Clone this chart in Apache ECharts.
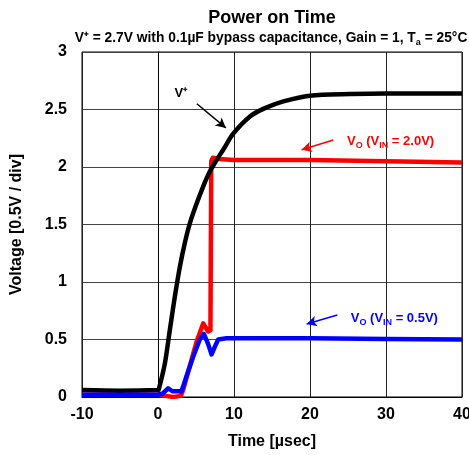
<!DOCTYPE html>
<html>
<head>
<meta charset="utf-8">
<script src="https://cdn.jsdelivr.net/npm/echarts@6/dist/echarts.min.js"></script>
<style>
html,body{margin:0;padding:0;background:#fff;}
#chart{width:469px;height:455px;}
</style>
</head>
<body>
<div id="chart"></div>
<script>
// Time [µsec], Voltage [V]
var vPlus = [
  [-10,0.06],[-5,0.055],[0,0.06],[0.1,0.065],[0.9,0.29],[1.55,0.58],[2.21,0.87],[2.87,1.13],
  [3.53,1.34],[4.19,1.51],[5.07,1.68],[5.94,1.83],[6.82,1.96],[7.7,2.06],[8.58,2.15],
  [9.9,2.29],[12.1,2.44],[14,2.51],[16.5,2.57],[20,2.62],[25.3,2.635],[30,2.64],[35,2.64],[40,2.64]
];
var voHigh = [
  [-10,0.02],[0,0.02],[1,0.01],[2,0.0],[3,0.01],[3.3,0.06],[4.19,0.27],[5.07,0.48],
  [5.94,0.64],[6.6,0.57],[6.9,0.58],[7.0,2.05],[7.2,2.08],[8,2.07],[10,2.06],
  [20,2.06],[30,2.05],[40,2.04]
];
var voLow = [
  [-10,0.02],[0,0.02],[0.6,0.03],[1.33,0.076],[1.9,0.05],[3.1,0.05],[3.75,0.18],
  [4.63,0.35],[5.5,0.5],[6.03,0.55],[6.6,0.46],[7.05,0.37],[7.5,0.44],[7.92,0.5],
  [9,0.51],[20,0.51],[30,0.505],[40,0.5]
];
var xTicks = [-10,0,10,20,30,40];
var yTicks = [0,0.5,1,1.5,2,2.5,3];

var FONT = '"Liberation Sans", Arial, sans-serif';
var chart = echarts.init(document.getElementById('chart'), null, {renderer:'canvas'});

function sub(color){
  return {
    m:{fontFamily:FONT,fontWeight:'bold',fontSize:13,color:color,lineHeight:17,verticalAlign:'bottom'},
    s:{fontFamily:FONT,fontWeight:'bold',fontSize:9,color:color,lineHeight:17,verticalAlign:'bottom',padding:[0,0,-2,0]}
  };
}

var option = {
  animation:false,
  backgroundColor:'#fff',
  grid:{left:82,right:7,top:52,bottom:58,show:true,borderColor:'#000',borderWidth:1,
    backgroundColor:'transparent',containLabel:false,outerBoundsMode:'none'},
  xAxis:{
    type:'value',min:-10,max:40,interval:10,
    name:'Time [µsec]',nameLocation:'middle',nameGap:37,
    nameTextStyle:{fontFamily:FONT,fontWeight:'bold',fontSize:16,color:'#000'},
    axisLine:{show:true,lineStyle:{color:'#000',width:1}},
    axisTick:{show:false},
    axisLabel:{fontFamily:FONT,fontWeight:'bold',fontSize:16,color:'#000',margin:10,
      formatter:function(v){return xTicks.indexOf(v)>=0?String(v):'';}},
    splitLine:{show:true,lineStyle:{color:'#222',width:1}}
  },
  yAxis:{
    type:'value',min:0,max:3,interval:0.5,
    name:'Voltage [0.5V / div]',nameLocation:'middle',nameGap:57,
    nameTextStyle:{fontFamily:FONT,fontWeight:'bold',fontSize:16,color:'#000'},
    axisLine:{show:true,lineStyle:{color:'#000',width:1}},
    axisTick:{show:false},
    axisLabel:{fontFamily:FONT,fontWeight:'bold',fontSize:16,color:'#000',margin:15,
      formatter:function(v){return yTicks.indexOf(v)>=0?String(v):'';}},
    splitLine:{show:true,lineStyle:{color:'#444',width:1}}
  },
  series:[
    {
      name:'VO (VIN = 2.0V)',type:'line',data:voHigh,showSymbol:false,smooth:false,
      lineStyle:{color:'#ff0000',width:4.5,join:'round'},z:2,
      markLine:{silent:true,symbol:['none','arrow'],symbolSize:[8,10],
        lineStyle:{color:'#ff0000',width:1.5,type:'solid'},label:{show:false},
        data:[[{coord:[23.07,2.235]},{coord:[18.9,2.15]}]]},
      markPoint:{symbol:'circle',symbolSize:0,
        label:{show:true,position:'inside',formatter:'{m|V}{s|O}{m| (V}{s|IN}{m| = 2.0V)}',rich:sub('#ff0000')},
        data:[{coord:[30.6,2.24]}]}
    },
    {
      name:'V+',type:'line',data:vPlus,showSymbol:false,smooth:0.3,
      lineStyle:{color:'#000',width:4.5,join:'round'},z:3,
      markLine:{silent:true,symbol:['none','arrow'],symbolSize:[8,10],
        lineStyle:{color:'#000',width:1.5,type:'solid'},label:{show:false},
        data:[[{coord:[5.11,2.55]},{coord:[8.93,2.34]}]]},
      markPoint:{symbol:'circle',symbolSize:0,
        label:{show:true,position:'inside',formatter:'V⁺',
          fontFamily:FONT,fontWeight:'bold',fontSize:13,color:'#000'},
        data:[{coord:[3.0,2.64]}]}
    },
    {
      name:'VO (VIN = 0.5V)',type:'line',data:voLow,showSymbol:false,smooth:false,
      lineStyle:{color:'#0000ff',width:4.5,join:'round'},z:4,
      markLine:{silent:true,symbol:['none','arrow'],symbolSize:[8,10],
        lineStyle:{color:'#0000ff',width:1.5,type:'solid'},label:{show:false},
        data:[[{coord:[23.6,0.713]},{coord:[19.56,0.635]}]]},
      markPoint:{symbol:'circle',symbolSize:0,
        label:{show:true,position:'inside',formatter:'{m|V}{s|O}{m| (V}{s|IN}{m| = 0.5V)}',rich:sub('#0000ff')},
        data:[{coord:[31.1,0.70]}]}
    }
  ],
  graphic:[
    {type:'text',x:272,y:18,style:{text:'Power on Time',fontFamily:FONT,fontWeight:'bold',fontSize:18,fill:'#000',textAlign:'center',textVerticalAlign:'middle'}},
    {type:'text',x:271,y:37,style:{
      text:'{b|V⁺ = 2.7V with 0.1µF bypass capacitance, Gain = 1, T}{s|a}{b| = 25°C}',
      textAlign:'center',textVerticalAlign:'middle',
      rich:{
        b:{fontFamily:FONT,fontWeight:'bold',fontSize:13.8,fill:'#000',lineHeight:16,verticalAlign:'bottom'},
        s:{fontFamily:FONT,fontWeight:'bold',fontSize:9,fill:'#000',lineHeight:16,verticalAlign:'bottom',padding:[0,0,-2,0]}
      }}}
  ]
};
chart.setOption(option);
</script>
</body>
</html>
